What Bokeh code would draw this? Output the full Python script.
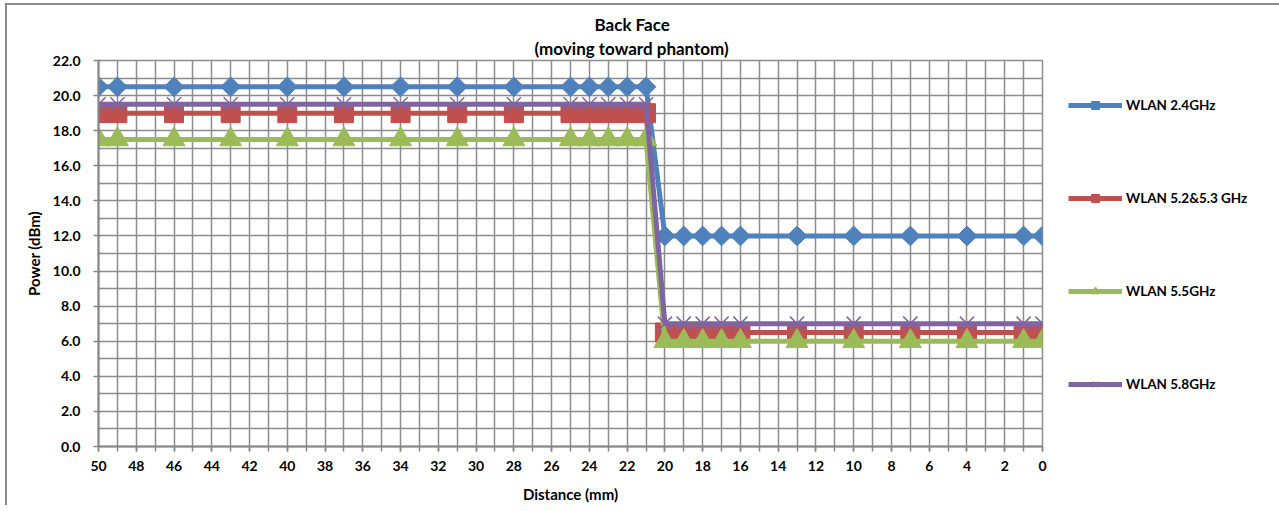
import numpy as np
from bokeh.plotting import figure
from bokeh.models import (Range1d, SingleIntervalTicker, Legend, LegendItem, Title,
                          PrintfTickFormatter)
from bokeh.embed import file_html
from bokeh.resources import INLINE

# ---- data ----
distance = [50, 49, 46, 43, 40, 37, 34, 31, 28, 25, 24, 23, 22, 21,
            20, 19, 18, 17, 16, 13, 10, 7, 4, 1, 0]
wlan_24 = [20.5, 20.5, 20.5, 20.5, 20.5, 20.5, 20.5, 20.5, 20.5, 20.5, 20.5, 20.5, 20.5, 20.5,
           12.0, 12.0, 12.0, 12.0, 12.0, 12.0, 12.0, 12.0, 12.0, 12.0, 12.0]
wlan_52_53 = [19.0, 19.0, 19.0, 19.0, 19.0, 19.0, 19.0, 19.0, 19.0, 19.0, 19.0, 19.0, 19.0, 19.0,
              6.5, 6.5, 6.5, 6.5, 6.5, 6.5, 6.5, 6.5, 6.5, 6.5, 6.5]
wlan_55 = [17.5, 17.5, 17.5, 17.5, 17.5, 17.5, 17.5, 17.5, 17.5, 17.5, 17.5, 17.5, 17.5, 17.5,
           6.0, 6.0, 6.0, 6.0, 6.0, 6.0, 6.0, 6.0, 6.0, 6.0, 6.0]
wlan_58 = [19.5, 19.5, 19.5, 19.5, 19.5, 19.5, 19.5, 19.5, 19.5, 19.5, 19.5, 19.5, 19.5, 19.5,
           7.0, 7.0, 7.0, 7.0, 7.0, 7.0, 7.0, 7.0, 7.0, 7.0, 7.0]
series_names = ["WLAN 2.4GHz", "WLAN 5.2&5.3 GHz", "WLAN 5.5GHz", "WLAN 5.8GHz"]
title_lines = ["Back Face", "(moving toward phantom)"]
x_label = "Distance (mm)"
y_label = "Power (dBm)"

FONT = "Lato"
GRID = "#8c8c8c"

p = figure(frame_width=944, frame_height=386, x_range=Range1d(50, 0), y_range=Range1d(0, 22),
           output_backend="svg", toolbar_location=None,
           min_border_left=91, min_border_right=235, min_border_top=55, min_border_bottom=59,
           background_fill_color="white", border_fill_color="white",
           styles={"margin-left": "5px", "margin-top": "3px",
                   "border-top": "2px solid #8a8a8a", "border-left": "2px solid #8a8a8a"})

p.outline_line_color = GRID
p.outline_line_width = 1.5

# grids every 1 unit
p.xgrid.ticker = SingleIntervalTicker(interval=1)
p.ygrid.ticker = SingleIntervalTicker(interval=1)
for g in (p.xgrid, p.ygrid):
    g.grid_line_color = GRID
    g.grid_line_width = 1.5

# axes
p.xaxis.ticker = SingleIntervalTicker(interval=2, num_minor_ticks=2)
p.yaxis.ticker = SingleIntervalTicker(interval=2, num_minor_ticks=2)
p.yaxis.formatter = PrintfTickFormatter(format="%.1f")
for ax in (p.xaxis, p.yaxis):
    ax.axis_line_color = "#868686"
    ax.axis_line_width = 2
    ax.major_tick_line_color = "#868686"
    ax.minor_tick_line_color = "#868686"
    ax.major_tick_line_width = 1.5
    ax.minor_tick_line_width = 1.5
    ax.major_tick_in = 0
    ax.major_tick_out = 5
    ax.major_label_text_font = FONT
    ax.major_label_text_font_style = "bold"
    ax.major_label_text_font_size = "14px"
    ax.major_label_text_color = "black"
    ax.axis_label_text_font = FONT
    ax.axis_label_text_font_style = "bold"
    ax.axis_label_text_font_size = "15px"
    ax.axis_label_text_color = "black"
p.xaxis.minor_tick_in = 0
p.xaxis.minor_tick_out = 5
p.yaxis.minor_tick_in = 2
p.yaxis.minor_tick_out = 0
p.xaxis.major_label_standoff = 9
p.yaxis.major_label_standoff = 13
p.xaxis.axis_label = x_label
p.yaxis.axis_label = y_label
p.xaxis.axis_label_standoff = 11
p.yaxis.axis_label_standoff = 7

colors = ["#4F81BD", "#C0504D", "#9BBB59", "#8064A2"]
values = [wlan_24, wlan_52_53, wlan_55, wlan_58]
items = []
for i, (name, ys, c) in enumerate(zip(series_names, values, colors)):
    ln = p.line(distance, ys, line_color=c, line_width=5)
    if i == 0:
        sc = p.scatter(distance, ys, marker="square", angle=np.pi / 4, size=14,
                       fill_color=c, line_color=c)
    elif i == 1:
        sc = p.scatter(distance, ys, marker="square", size=19, fill_color=c, line_color=c)
    elif i == 2:
        sc = p.scatter(distance, ys, marker="triangle", size=22, fill_color=c, line_color=c)
    else:
        sc = p.scatter(distance, ys, marker="x", size=20, line_color=c, line_width=1.5)
    items.append(LegendItem(label=name, renderers=[ln, sc]))

legend = Legend(items=items, location=(26, 52), orientation="vertical",
                spacing=73, label_height=20, glyph_height=20, glyph_width=54,
                label_standoff=4, padding=0, margin=0,
                border_line_color=None, background_fill_alpha=0,
                label_text_font=FONT, label_text_font_style="bold",
                label_text_font_size="13.5px", label_text_color="black")
p.add_layout(legend, "right")

# title (two lines centred on the whole chart); first added sits nearest the frame
p.add_layout(Title(text=title_lines[1], align="left", offset=436, standoff=4,
                   text_font=FONT, text_font_style="bold", text_font_size="17px",
                   text_color="black"), "above")
p.add_layout(Title(text=title_lines[0], align="left", offset=496, standoff=-2,
                   text_font=FONT, text_font_style="bold", text_font_size="17px",
                   text_color="black"), "above")

open("out.html", "w").write(file_html(p, INLINE))
